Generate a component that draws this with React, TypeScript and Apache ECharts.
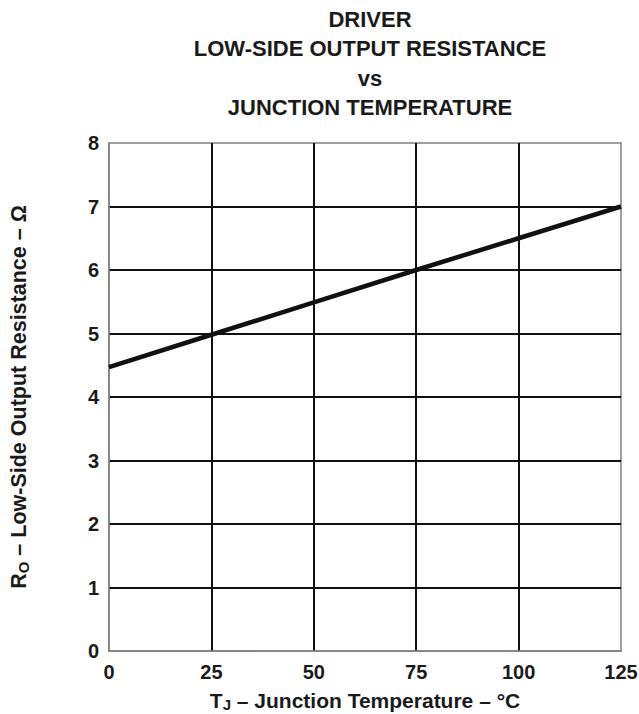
import React, { useEffect, useRef } from "react";
import * as echarts from "echarts";

const temperatures = [0, 25, 50, 75, 100, 125];
const resistance = [4.47, 4.98, 5.49, 6.0, 6.5, 7.0];
const titleLines = ["DRIVER", "LOW-SIDE OUTPUT RESISTANCE", "vs", "JUNCTION TEMPERATURE"];

const FONT = "'Liberation Sans', Arial, Helvetica, sans-serif";

export default function App() {
  const ref = useRef<HTMLDivElement>(null);
  useEffect(() => {
    if (!ref.current) return;
    const chart = echarts.init(ref.current, undefined, { renderer: "svg" });
    chart.setOption({
      animation: false,
      backgroundColor: "#fff",
      title: {
        text: titleLines.join("\n"),
        left: 365,
        textAlign: "center",
        top: 0,
        textStyle: {
          fontFamily: FONT,
          fontWeight: "bold",
          fontSize: 22,
          lineHeight: 29.3,
          color: "#1a1a1a",
        },
      },
      grid: {
        left: 109,
        right: 18,
        top: 143,
        bottom: 63,
        outerBoundsMode: "none",
        containLabel: false,
        show: true,
        borderColor: "#808080",
        borderWidth: 1.5,
      },
      xAxis: {
        type: "value",
        min: 0,
        max: 125,
        interval: 25,
        name: "{m|T}{s|J}{m| – Junction Temperature – °C}",
        nameLocation: "middle",
        nameGap: 37,
        nameTextStyle: {
          rich: {
            m: { fontFamily: FONT, fontWeight: "bold", fontSize: 21, color: "#1a1a1a" },
            s: { fontFamily: FONT, fontWeight: "bold", fontSize: 15, color: "#1a1a1a", verticalAlign: "bottom", padding: [9, 0, 0, 0] },
          },
        },
        axisLine: { show: true, lineStyle: { color: "#808080", width: 1.5 } },
        axisTick: { show: false },
        axisLabel: {
          margin: 11,
          fontFamily: FONT,
          fontWeight: "bold",
          fontSize: 20,
          color: "#1a1a1a",
        },
        splitLine: {
          show: true,
          showMinLine: false,
          showMaxLine: false,
          lineStyle: { color: "#111", width: 2 },
        },
      },
      yAxis: {
        type: "value",
        min: 0,
        max: 8,
        interval: 1,
        name: "{m|R}{s|O}{m| – Low-Side Output Resistance – Ω}",
        nameLocation: "middle",
        nameRotate: 90,
        nameGap: 78,
        nameTextStyle: {
          rich: {
            m: { fontFamily: FONT, fontWeight: "bold", fontSize: 21.5, color: "#1a1a1a" },
            s: { fontFamily: FONT, fontWeight: "bold", fontSize: 15, color: "#1a1a1a", verticalAlign: "bottom", padding: [9, 0, 0, 0] },
          },
        },
        axisLine: { show: true, lineStyle: { color: "#808080", width: 1.5 } },
        axisTick: { show: false },
        axisLabel: {
          margin: 10,
          fontFamily: FONT,
          fontWeight: "bold",
          fontSize: 20,
          color: "#1a1a1a",
        },
        splitLine: {
          show: true,
          showMinLine: false,
          showMaxLine: false,
          lineStyle: { color: "#111", width: 2 },
        },
      },
      series: [
        {
          type: "line",
          data: temperatures.map((t, i) => [t, resistance[i]]),
          symbol: "none",
          lineStyle: { color: "#111", width: 4.5 },
        },
      ],
    });
    return () => chart.dispose();
  }, []);
  return <div ref={ref} style={{ width: 639, height: 714, position: "absolute", left: 0, top: 0 }} />;
}
